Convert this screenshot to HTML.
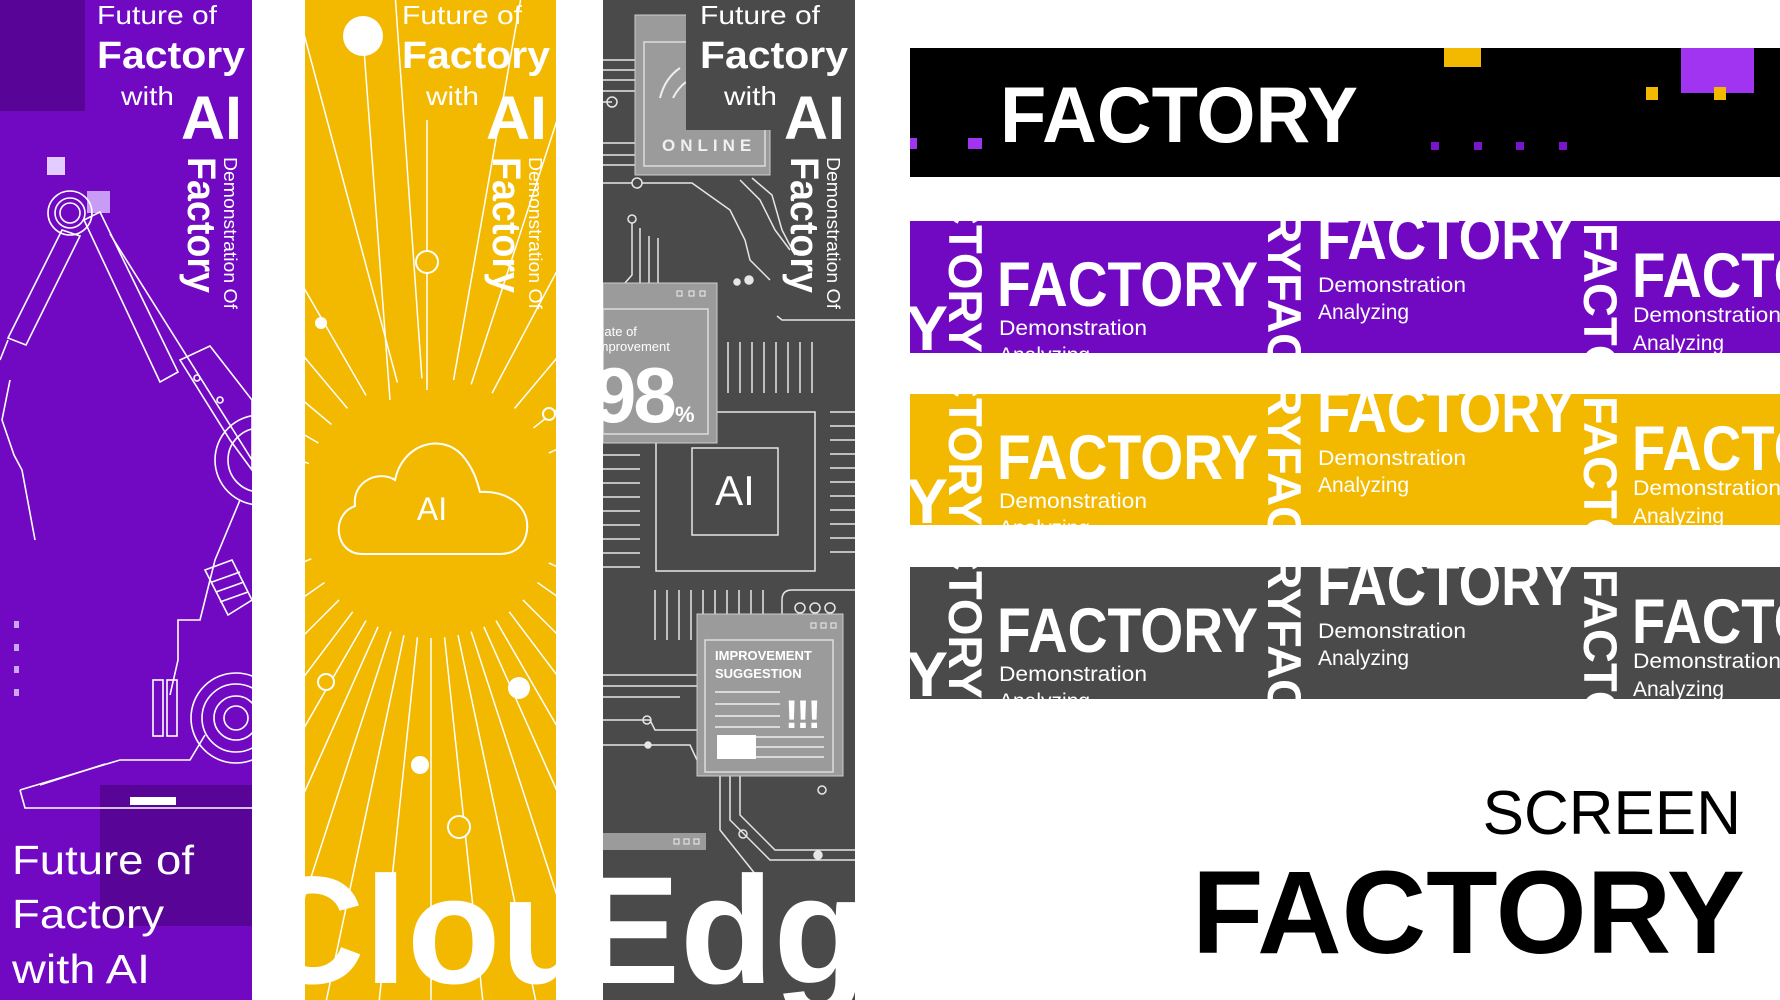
<!DOCTYPE html>
<html><head><meta charset="utf-8"><style>
html,body{margin:0;padding:0;background:#fff;width:1780px;height:1000px;overflow:hidden;}
svg{display:block;font-family:"Liberation Sans",sans-serif;}
</style></head><body>
<svg width="1780" height="1000" viewBox="0 0 1780 1000" xmlns="http://www.w3.org/2000/svg">
<defs>
<clipPath id="c1"><rect x="0" y="0" width="252" height="1000"/></clipPath>
<clipPath id="c2"><rect x="305" y="0" width="251" height="1000"/></clipPath>
<clipPath id="c3"><rect x="603" y="0" width="252" height="1000"/></clipPath>
<g id="coltext" fill="#fff">
  <text x="97" y="24" font-size="26" textLength="120" lengthAdjust="spacingAndGlyphs">Future of</text>
  <text x="97" y="68" font-size="38" font-weight="bold" textLength="148" lengthAdjust="spacingAndGlyphs">Factory</text>
  <text x="121" y="105" font-size="26" textLength="53" lengthAdjust="spacingAndGlyphs">with</text>
  <text x="181" y="139" font-size="61" font-weight="bold" textLength="61" lengthAdjust="spacingAndGlyphs">AI</text>
  <text transform="translate(188,157) rotate(90)" font-size="40" font-weight="bold" textLength="136" lengthAdjust="spacingAndGlyphs">Factory</text>
  <text transform="translate(224,157) rotate(90)" font-size="18" textLength="152" lengthAdjust="spacingAndGlyphs">Demonstration Of</text>
</g>
<g id="bn" fill="#fff">
  <text x="906" y="129" font-size="63" font-weight="bold">Y</text>
  <text transform="translate(949,-90) rotate(90)" font-size="47" font-weight="bold">FACTORY</text>
  <text x="997" y="85" font-size="63" font-weight="bold" textLength="261" lengthAdjust="spacingAndGlyphs">FACTORY</text>
  <text x="999" y="114" font-size="21" textLength="148" lengthAdjust="spacingAndGlyphs">Demonstration</text>
  <text x="999" y="141" font-size="21">Analyzing</text>
  <text transform="translate(1268,-48) rotate(90)" font-size="47" font-weight="bold">ORYFACTORY</text>
  <text x="1317" y="38" font-size="63" font-weight="bold" textLength="258" lengthAdjust="spacingAndGlyphs">FACTORY</text>
  <text x="1318" y="71" font-size="21" textLength="148" lengthAdjust="spacingAndGlyphs">Demonstration</text>
  <text x="1318" y="98" font-size="21">Analyzing</text>
  <text transform="translate(1584,2) rotate(90)" font-size="47" font-weight="bold">FACTORY</text>
  <text x="1632" y="76" font-size="63" font-weight="bold" textLength="258" lengthAdjust="spacingAndGlyphs">FACTORY</text>
  <text x="1633" y="101" font-size="21" textLength="148" lengthAdjust="spacingAndGlyphs">Demonstration</text>
  <text x="1633" y="129" font-size="21">Analyzing</text>
</g>
</defs>

<!-- PURPLE COLUMN -->
<g clip-path="url(#c1)">
  <rect x="0" y="0" width="252" height="1000" fill="#7109c3"/>
  <rect x="0" y="0" width="85" height="111" fill="#570497"/>
  <rect x="100" y="785" width="152" height="141" fill="#570497"/>
  <rect x="47" y="157" width="18" height="18" fill="#e3ccff"/>
  <rect x="87" y="191" width="23" height="22" fill="#c89cf5"/>
  <g fill="#c9a8f0"><rect x="14" y="621" width="5" height="7"/><rect x="14" y="644" width="5" height="7"/><rect x="14" y="666" width="5" height="7"/><rect x="14" y="689" width="5" height="7"/></g>
  <g fill="none" stroke="#fff" stroke-width="1.6">
    <circle cx="70" cy="213" r="22"/><circle cx="70" cy="213" r="15"/><circle cx="70" cy="213" r="10"/>
    <polygon points="62,230 80,236 26,345 8,338"/>
    <polygon points="84,220 100,212 178,372 160,382"/>
    <line x1="110" y1="234" x2="252" y2="460"/>
    <polygon points="180,360 210,346 252,400 252,470 230,440"/>
    <circle cx="197" cy="378" r="3"/><circle cx="220" cy="400" r="3"/>
    <line x1="8" y1="340" x2="0" y2="360"/>
    <polyline points="10,380 2,420 14,455 22,470 35,540"/>
    <circle cx="260" cy="460" r="45"/><circle cx="260" cy="460" r="32"/>
    <polyline points="240,500 215,560 200,620 178,620 178,660 170,695"/>
    <polygon points="205,570 232,560 252,600 228,615"/>
    <line x1="212" y1="582" x2="240" y2="572"/><line x1="216" y1="592" x2="244" y2="582"/><line x1="220" y1="602" x2="248" y2="592"/>
    <rect x="153" y="680" width="10" height="56"/><rect x="167" y="680" width="10" height="56"/>
    <circle cx="236" cy="718" r="45"/><circle cx="236" cy="718" r="34"/><circle cx="236" cy="718" r="22"/><circle cx="236" cy="718" r="12"/>
    <polyline points="20,790 25,808 252,808"/>
    <polyline points="20,790 120,760 190,760 205,735"/>
    <polyline points="40,785 105,764"/>
  </g>
  <g fill="#fff"><rect x="130" y="797" width="46" height="8"/></g>
  <use href="#coltext"/>
  <g fill="#fff" font-size="41">
    <text x="12" y="874" textLength="182" lengthAdjust="spacingAndGlyphs">Future of</text>
    <text x="12" y="928" textLength="152" lengthAdjust="spacingAndGlyphs">Factory</text>
    <text x="12" y="983" textLength="138" lengthAdjust="spacingAndGlyphs">with AI</text>
  </g>
</g>

<!-- YELLOW COLUMN -->
<g clip-path="url(#c2)">
  <rect x="305" y="0" width="251" height="1000" fill="#f2b900"/>
  <g stroke="#fff" stroke-width="1.5">
    <g transform="rotate(-170 431 508)"><line x1="561" y1="508" x2="1100" y2="508"/></g>
    <g transform="rotate(-160 431 508)"><line x1="561" y1="508" x2="1100" y2="508"/></g>
    <g transform="rotate(-150 431 508)"><line x1="561" y1="508" x2="1100" y2="508"/></g>
    <g transform="rotate(-140 431 508)"><line x1="561" y1="508" x2="1100" y2="508"/></g>
    <g transform="rotate(-130 431 508)"><line x1="561" y1="508" x2="1100" y2="508"/></g>
    <g transform="rotate(-120 431 508)"><line x1="561" y1="508" x2="1100" y2="508"/></g>
    <g transform="rotate(-105 431 508)"><line x1="561" y1="508" x2="1100" y2="508"/></g>
    <g transform="rotate(-94 431 508)"><line x1="561" y1="508" x2="1100" y2="508"/></g>
    <g transform="rotate(-80 431 508)"><line x1="561" y1="508" x2="1100" y2="508"/></g>
    <g transform="rotate(-72 431 508)"><line x1="561" y1="508" x2="1100" y2="508"/></g>
    <g transform="rotate(-62 431 508)"><line x1="561" y1="508" x2="1100" y2="508"/></g>
    <g transform="rotate(-50 431 508)"><line x1="561" y1="508" x2="1100" y2="508"/></g>
    <g transform="rotate(-38 431 508)"><line x1="561" y1="508" x2="1100" y2="508"/></g>
    <g transform="rotate(-25 431 508)"><line x1="561" y1="508" x2="1100" y2="508"/></g>
    <g transform="rotate(-12 431 508)"><line x1="561" y1="508" x2="1100" y2="508"/></g>
    <g transform="rotate(0 431 508)"><line x1="561" y1="508" x2="1100" y2="508"/></g>
    <g transform="rotate(12 431 508)"><line x1="561" y1="508" x2="1100" y2="508"/></g>
    <g transform="rotate(25 431 508)"><line x1="561" y1="508" x2="1100" y2="508"/></g>
    <g transform="rotate(35 431 508)"><line x1="561" y1="508" x2="1100" y2="508"/></g>
    <g transform="rotate(45 431 508)"><line x1="561" y1="508" x2="1100" y2="508"/></g>
    <g transform="rotate(53 431 508)"><line x1="561" y1="508" x2="1100" y2="508"/></g>
    <g transform="rotate(60 431 508)"><line x1="561" y1="508" x2="1100" y2="508"/></g>
    <g transform="rotate(66 431 508)"><line x1="561" y1="508" x2="1100" y2="508"/></g>
    <g transform="rotate(72 431 508)"><line x1="561" y1="508" x2="1100" y2="508"/></g>
    <g transform="rotate(78 431 508)"><line x1="561" y1="508" x2="1100" y2="508"/></g>
    <g transform="rotate(84 431 508)"><line x1="561" y1="508" x2="1100" y2="508"/></g>
    <g transform="rotate(90 431 508)"><line x1="561" y1="508" x2="1100" y2="508"/></g>
    <g transform="rotate(96 431 508)"><line x1="561" y1="508" x2="1100" y2="508"/></g>
    <g transform="rotate(102 431 508)"><line x1="561" y1="508" x2="1100" y2="508"/></g>
    <g transform="rotate(108 431 508)"><line x1="561" y1="508" x2="1100" y2="508"/></g>
    <g transform="rotate(114 431 508)"><line x1="561" y1="508" x2="1100" y2="508"/></g>
    <g transform="rotate(120 431 508)"><line x1="561" y1="508" x2="1100" y2="508"/></g>
    <g transform="rotate(127 431 508)"><line x1="561" y1="508" x2="1100" y2="508"/></g>
    <g transform="rotate(135 431 508)"><line x1="561" y1="508" x2="1100" y2="508"/></g>
    <g transform="rotate(145 431 508)"><line x1="561" y1="508" x2="1100" y2="508"/></g>
    <g transform="rotate(157 431 508)"><line x1="561" y1="508" x2="1100" y2="508"/></g>
    <g transform="rotate(170 431 508)"><line x1="561" y1="508" x2="1100" y2="508"/></g>
    <line x1="363" y1="36" x2="390" y2="400"/>
    <line x1="427" y1="120" x2="427" y2="390"/>
  </g>
  <path d="M362,554 C335,554 330,515 355,506 C352,480 380,470 395,480 C402,445 440,432 462,455 C475,470 478,485 480,492 C505,490 530,505 527,530 C525,548 512,554 500,554 Z" fill="#f2b900" stroke="#fff" stroke-width="2"/>
  <text x="432" y="520" fill="#fff" font-size="32" text-anchor="middle">AI</text>
  <circle cx="363" cy="36" r="20" fill="#fff"/>
  <circle cx="427" cy="262" r="11" fill="#f2b900" stroke="#fff" stroke-width="2"/>
  <circle cx="321" cy="323" r="6" fill="#fff"/>
  <circle cx="549" cy="414" r="6" fill="#f2b900" stroke="#fff" stroke-width="2"/>
  <circle cx="326" cy="682" r="8" fill="#f2b900" stroke="#fff" stroke-width="2"/>
  <circle cx="519" cy="688" r="11" fill="#fff"/>
  <circle cx="420" cy="765" r="9" fill="#fff"/>
  <circle cx="459" cy="827" r="11" fill="#f2b900" stroke="#fff" stroke-width="2"/>
  <g transform="translate(305,0)"><use href="#coltext"/></g>
  <text x="254" y="983" fill="#fff" font-size="153" font-weight="bold">Clou</text>
</g>

<!-- GRAY COLUMN -->
<g clip-path="url(#c3)">
  <rect x="603" y="0" width="252" height="1000" fill="#4a4a4a"/>
  <g stroke="#e6e6e6" stroke-width="1.5" fill="none">
    <line x1="603" y1="60" x2="640" y2="60"/><line x1="603" y1="70" x2="640" y2="70"/><line x1="603" y1="80" x2="640" y2="80"/><line x1="603" y1="91" x2="640" y2="91"/>
    <line x1="603" y1="143" x2="640" y2="143"/><line x1="603" y1="155" x2="640" y2="155"/><line x1="603" y1="165" x2="640" y2="165"/>
    <polyline points="603,102 612,102"/><circle cx="612" cy="102" r="5"/>
    <polyline points="603,183 632,183"/><circle cx="637" cy="183" r="5"/>
    <polyline points="642,183 692,183 730,210 745,240 750,260 770,280"/>
    <polyline points="740,180 760,200 775,230 790,250"/>
    <polyline points="752,178 772,195 782,230 795,255"/>
    <circle cx="632" cy="219" r="4"/><polyline points="632,223 632,275 625,283"/>
    <line x1="640" y1="228" x2="640" y2="283"/><line x1="649" y1="236" x2="649" y2="283"/><line x1="658" y1="238" x2="658" y2="283"/>
    <polyline points="777,316 782,320 855,320"/>
    <g><line x1="728" y1="342" x2="728" y2="393"/><line x1="740" y1="342" x2="740" y2="393"/><line x1="752" y1="342" x2="752" y2="393"/><line x1="764" y1="342" x2="764" y2="393"/><line x1="776" y1="342" x2="776" y2="393"/><line x1="788" y1="342" x2="788" y2="393"/><line x1="800" y1="342" x2="800" y2="393"/><line x1="812" y1="342" x2="812" y2="393"/></g>
    <g><line x1="603" y1="455" x2="640" y2="455"/><line x1="603" y1="469" x2="640" y2="469"/><line x1="603" y1="483" x2="640" y2="483"/><line x1="603" y1="497" x2="640" y2="497"/><line x1="603" y1="511" x2="640" y2="511"/><line x1="603" y1="525" x2="640" y2="525"/><line x1="603" y1="539" x2="640" y2="539"/><line x1="603" y1="553" x2="640" y2="553"/><line x1="603" y1="567" x2="640" y2="567"/></g>
    <g><line x1="830" y1="412" x2="855" y2="412"/><line x1="830" y1="426" x2="855" y2="426"/><line x1="830" y1="440" x2="855" y2="440"/><line x1="830" y1="454" x2="855" y2="454"/><line x1="830" y1="468" x2="855" y2="468"/><line x1="830" y1="482" x2="855" y2="482"/><line x1="830" y1="496" x2="855" y2="496"/><line x1="830" y1="510" x2="855" y2="510"/><line x1="830" y1="524" x2="855" y2="524"/><line x1="830" y1="538" x2="855" y2="538"/><line x1="830" y1="552" x2="855" y2="552"/></g>
    <rect x="656" y="412" width="159" height="159"/>
    <rect x="692" y="448" width="86" height="87"/>
    <g><line x1="655" y1="590" x2="655" y2="640"/><line x1="667" y1="590" x2="667" y2="640"/><line x1="679" y1="590" x2="679" y2="640"/><line x1="691" y1="590" x2="691" y2="640"/><line x1="703" y1="590" x2="703" y2="640"/><line x1="715" y1="590" x2="715" y2="640"/><line x1="727" y1="590" x2="727" y2="640"/><line x1="739" y1="590" x2="739" y2="640"/><line x1="751" y1="590" x2="751" y2="640"/><line x1="763" y1="590" x2="763" y2="640"/></g>
    <path d="M782,640 L782,600 Q782,590 792,590 L855,590"/>
    <polyline points="603,675 697,675"/><polyline points="603,686 697,686"/><polyline points="603,697 680,697"/>
    <polyline points="603,720 650,720 655,730 697,730"/><circle cx="647" cy="720" r="4"/>
    <polyline points="603,745 690,745 697,760"/><circle cx="648" cy="745" r="3" fill="#e6e6e6"/>
    <polyline points="730,775 730,820 770,860 855,860"/><polyline points="740,775 740,815 775,850 855,850"/>
    <polyline points="720,775 720,830 760,880"/><circle cx="818" cy="855" r="4" fill="#e6e6e6"/>
    <circle cx="822" cy="790" r="4"/><circle cx="743" cy="834" r="4"/>
    <circle cx="800" cy="608" r="5"/><circle cx="815" cy="608" r="5"/><circle cx="830" cy="608" r="5"/>
    <circle cx="737" cy="282" r="3" fill="#e6e6e6"/><circle cx="749" cy="280" r="4" fill="#e6e6e6"/>
  </g>
  <rect x="635" y="15" width="135" height="160" fill="#9b9b9b" stroke="#ccc" stroke-width="1"/>
  <rect x="644" y="42" width="121" height="124" fill="none" stroke="#ddd" stroke-width="1.5"/>
  <path d="M660,98 Q665,78 680,68 M673,98 Q678,88 686,82" stroke="#eee" stroke-width="2" fill="none"/>
  <rect x="686" y="0" width="169" height="130" fill="#4a4a4a"/>
  <text x="662" y="151" fill="#f0f0f0" font-size="17" font-weight="bold" letter-spacing="5">ONLINE</text>
  <rect x="603" y="283" width="114" height="160" fill="#9b9b9b" stroke="#ccc" stroke-width="1"/>
  <rect x="603" y="309" width="105" height="125" fill="none" stroke="#ddd" stroke-width="1.5"/>
  <g fill="none" stroke="#eee" stroke-width="1"><rect x="677" y="291" width="5" height="5"/><rect x="689" y="291" width="5" height="5"/><rect x="700" y="291" width="5" height="5"/></g>
  <text x="595" y="336" fill="#fff" font-size="13">Rate of</text>
  <text x="594" y="351" fill="#fff" font-size="13">Improvement</text>
  <text x="593" y="422" fill="#fff" font-size="78" font-weight="bold" letter-spacing="-3">98</text>
  <text x="675" y="422" fill="#fff" font-size="22" font-weight="bold">%</text>
  <text x="735" y="505" fill="#fff" font-size="42" text-anchor="middle">AI</text>
  <rect x="697" y="614" width="146" height="162" fill="#9b9b9b" stroke="#ccc" stroke-width="1"/>
  <rect x="705" y="640" width="128" height="132" fill="none" stroke="#ddd" stroke-width="1.5"/>
  <g fill="none" stroke="#eee" stroke-width="1"><rect x="811" y="623" width="5" height="5"/><rect x="821" y="623" width="5" height="5"/><rect x="831" y="623" width="5" height="5"/></g>
  <text x="715" y="660" fill="#fff" font-size="13" font-weight="bold">IMPROVEMENT</text>
  <text x="715" y="678" fill="#fff" font-size="13" font-weight="bold">SUGGESTION</text>
  <g stroke="#eee" stroke-width="1.5"><line x1="715" y1="692" x2="780" y2="692"/><line x1="715" y1="704" x2="780" y2="704"/><line x1="715" y1="716" x2="780" y2="716"/><line x1="715" y1="727" x2="780" y2="727"/><line x1="750" y1="737" x2="824" y2="737"/><line x1="750" y1="747" x2="824" y2="747"/><line x1="750" y1="757" x2="824" y2="757"/></g>
  <text x="785" y="728" fill="#fff" font-size="40" font-weight="bold" letter-spacing="-2">!!!</text>
  <rect x="717" y="735" width="39" height="24" fill="#fff"/>
  <rect x="603" y="833" width="103" height="17" fill="#9b9b9b"/>
  <g fill="none" stroke="#eee" stroke-width="1"><rect x="674" y="839" width="5" height="5"/><rect x="684" y="839" width="5" height="5"/><rect x="694" y="839" width="5" height="5"/></g>
  <g transform="translate(603,0)"><use href="#coltext"/></g>
  <text x="578" y="983" fill="#fff" font-size="153" font-weight="bold">Edg</text>
</g>

<!-- BLACK BANNER -->
<rect x="910" y="48" width="870" height="129" fill="#000"/>
<rect x="1444" y="48" width="37" height="19" fill="#f2b900"/>
<rect x="1681" y="48" width="73" height="45" fill="#a034f0"/>
<rect x="1646" y="87" width="12" height="13" fill="#f2b900"/>
<rect x="1714" y="87" width="12" height="13" fill="#f2b900"/>
<rect x="910" y="138" width="7" height="11" fill="#a034f0"/>
<rect x="968" y="138" width="14" height="11" fill="#a034f0"/>
<g fill="#7a16c9"><rect x="1431" y="142" width="8" height="8"/><rect x="1474" y="142" width="8" height="8"/><rect x="1516" y="142" width="8" height="8"/><rect x="1559" y="142" width="8" height="8"/></g>
<text x="1000" y="142" fill="#fff" font-size="79" font-weight="bold" textLength="358" lengthAdjust="spacingAndGlyphs">FACTORY</text>

<g transform="translate(0,221)">
  <svg x="910" y="0" width="870" height="132" viewBox="910 0 870 132" overflow="hidden">
    <rect x="910" y="0" width="870" height="132" fill="#7109c3"/><use href="#bn"/>
  </svg>
</g>
<g transform="translate(0,394)">
  <svg x="910" y="0" width="870" height="131" viewBox="910 0 870 131" overflow="hidden">
    <rect x="910" y="0" width="870" height="131" fill="#f2b900"/><use href="#bn"/>
  </svg>
</g>
<g transform="translate(0,567)">
  <svg x="910" y="0" width="870" height="132" viewBox="910 0 870 132" overflow="hidden">
    <rect x="910" y="0" width="870" height="132" fill="#4a4a4a"/><use href="#bn"/>
  </svg>
</g>

<text x="1741" y="834" font-size="62" text-anchor="end" fill="#000">SCREEN</text>
<text x="1745" y="953" font-size="118" font-weight="bold" text-anchor="end" fill="#000" textLength="553" lengthAdjust="spacingAndGlyphs">FACTORY</text>
</svg>
</body></html>
